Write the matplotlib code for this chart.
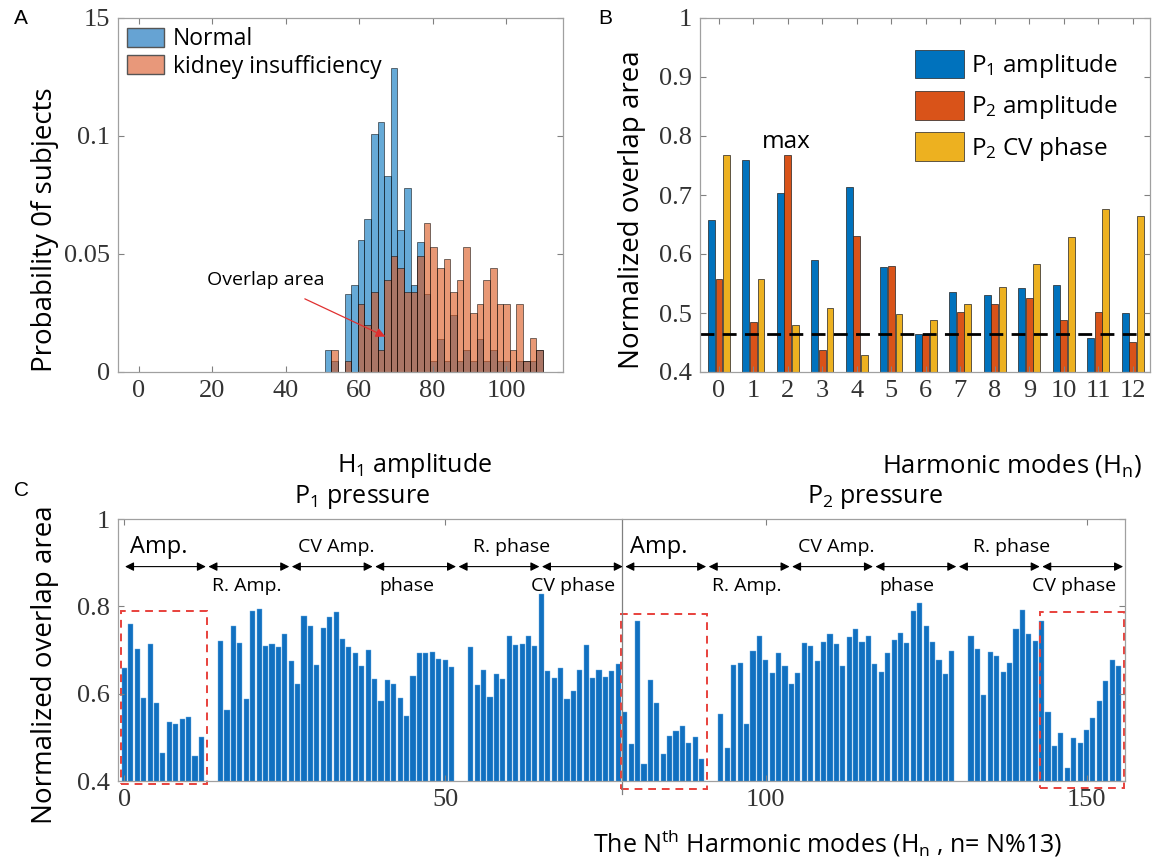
import numpy as np
import matplotlib
matplotlib.use("Agg")
import matplotlib.pyplot as plt
from matplotlib.patches import Rectangle, Patch
import matplotlib.transforms as mtransforms

plt.rcParams['font.family'] = ['Open Sans', 'DejaVu Sans']
plt.rcParams['mathtext.fontset'] = 'custom'
plt.rcParams['mathtext.rm'] = 'Open Sans'
plt.rcParams['mathtext.it'] = 'Open Sans'

# ---- panel A: histogram of H1 amplitude ----
bin_start = 50.6
bin_width = 1.8
normal_prob = [0.0095, 0.0047, 0.0, 0.0330, 0.0370, 0.0560, 0.0650, 0.1010, 0.1060,
               0.0830, 0.1290, 0.0600, 0.0780, 0.0370, 0.0550, 0.0330, 0.0047, 0.0140,
               0.0047, 0.0240, 0.0047, 0.0095, 0.0047, 0.0140, 0.0047, 0.0095, 0.0047,
               0.0047, 0.0, 0.0047, 0.0047, 0.0047, 0.0095]
kidney_prob = [0.0, 0.0095, 0.0, 0.0047, 0.0, 0.0290, 0.0200, 0.0340, 0.0095,
               0.0390, 0.0490, 0.0440, 0.0340, 0.0340, 0.0490, 0.0630, 0.0530, 0.0440,
               0.0480, 0.0340, 0.0390, 0.0530, 0.0250, 0.0290, 0.0390, 0.0440, 0.0290,
               0.0290, 0.0095, 0.0290, 0.0047, 0.0145, 0.0095]

# ---- panel B: overlap area per harmonic ----
harmonics = list(range(13))
p1_amp = [0.658, 0.759, 0.703, 0.590, 0.714, 0.578, 0.464, 0.536, 0.530, 0.543, 0.547, 0.458, 0.500]
p2_amp = [0.557, 0.484, 0.767, 0.438, 0.631, 0.579, 0.462, 0.502, 0.515, 0.525, 0.488, 0.501, 0.451]
p2_cv_phase = [0.767, 0.557, 0.480, 0.509, 0.429, 0.499, 0.488, 0.516, 0.544, 0.583, 0.629, 0.677, 0.664]
threshold = 0.464

# ---- panel C: all 156 features ----
nan = np.nan
p1_r_amp = [nan, nan, 0.720, 0.563, 0.754, 0.717, 0.587, 0.789, 0.794, 0.709, 0.713, 0.707, 0.737]
p1_cv_amp = [0.674, 0.623, 0.779, 0.756, 0.666, 0.751, 0.776, 0.788, 0.726, 0.706, 0.693, 0.664, 0.701]
p1_phase = [0.634, 0.583, 0.631, 0.623, 0.590, 0.550, 0.641, 0.694, 0.693, 0.696, 0.680, 0.676, 0.661]
p1_r_phase = [nan, nan, 0.708, 0.619, 0.655, 0.593, 0.645, 0.634, 0.731, 0.711, 0.714, 0.731, 0.710]
p1_cv_phase = [0.829, 0.652, 0.636, 0.658, 0.587, 0.607, 0.654, 0.712, 0.635, 0.655, 0.639, 0.652, 0.667]
p2_r_amp = [nan, nan, 0.554, 0.475, 0.665, 0.670, 0.531, 0.697, 0.731, 0.678, 0.648, 0.693, 0.664]
p2_cv_amp = [0.621, 0.648, 0.715, 0.710, 0.674, 0.718, 0.737, 0.714, 0.663, 0.729, 0.749, 0.718, 0.731]
p2_phase = [0.667, 0.650, 0.693, 0.722, 0.739, 0.716, 0.790, 0.808, 0.754, 0.718, 0.676, 0.645, 0.697]
p2_r_phase = [nan, nan, 0.731, 0.702, 0.597, 0.696, 0.686, 0.650, 0.670, 0.748, 0.792, 0.737, 0.720]

segment_names = ["Amp.", "R. Amp.", "CV Amp.", "phase", "R. phase", "CV phase"]
label_offsets = [5.3, 6.0, 7.0, 5.0, 8.3, 5.0]

W, H = 1156, 866
fig = plt.figure(figsize=(W / 100, H / 100), dpi=100)


def add_ax(left, top, right, bottom):
    return fig.add_axes([left / W, 1 - bottom / H, (right - left) / W, (bottom - top) / H])


def style_axes(ax):
    for s in ax.spines.values():
        s.set_color('#a0a0a0')
        s.set_linewidth(0.9)
    ax.tick_params(direction='in', top=True, right=True, length=4, width=0.8,
                   color='#808080', labelsize=19, labelcolor='#333333',
                   labelfontfamily='Liberation Serif', pad=6)


BLUE = '#0072BD'
ORANGE = '#D95319'
YELLOW = '#EDB120'

# ---------------- A ----------------
axA = add_ax(118, 18, 563, 372)
edges = bin_start + bin_width * np.arange(len(normal_prob))
axA.bar(edges, normal_prob, width=bin_width, align='edge', color=BLUE, alpha=0.6,
        edgecolor='black', linewidth=0.6)
axA.bar(edges, kidney_prob, width=bin_width, align='edge', color=ORANGE, alpha=0.6,
        edgecolor='black', linewidth=0.6)
axA.set_xlim(-5.7, 115.5)
axA.set_ylim(0, 0.15)
axA.set_xticks([0, 20, 40, 60, 80, 100])
axA.set_yticks([0, 0.05, 0.1, 0.15])
axA.set_yticklabels(['0', '0.05', '0.1', '15'])
style_axes(axA)
axA.legend(handles=[Patch(facecolor='#66a3d3', edgecolor='#555555', label='Normal'),
                    Patch(facecolor='#e8987a', edgecolor='#555555', label='kidney insufficiency')],
           loc='upper left', frameon=False, fontsize=16.5, handlelength=1.6, handleheight=0.9,
           handletextpad=0.4, labelspacing=0.15, borderaxespad=0.1, borderpad=0.3)
axA.annotate('', xy=(67.8, 0.0145), xytext=(44.5, 0.0315),
             arrowprops=dict(arrowstyle='-|>', color='#e03030', lw=0.9, mutation_scale=14))
axA.text(34.5, 0.039, 'Overlap area', ha='center', va='center', fontsize=14)
fig.text(14 / W, 1 - 18 / H, 'A', fontsize=15, family='Liberation Sans', va='center')
fig.text(45 / W, 1 - 230 / H, 'Probability 0f subjects', rotation=90, fontsize=20,
         ha='center', va='center')
fig.text(415 / W, 1 - 465 / H, 'H$_1$ amplitude', fontsize=18, ha='center', va='center')

# ---------------- B ----------------
axB = add_ax(700, 18, 1150, 372)
x = np.array(harmonics)
w = 0.2
axB.bar(x - 0.22, p1_amp, width=w, color=BLUE, edgecolor='#222222', linewidth=0.5,
        label='P$_1$ amplitude')
axB.bar(x, p2_amp, width=w, color=ORANGE, edgecolor='#222222', linewidth=0.5,
        label='P$_2$ amplitude')
axB.bar(x + 0.22, p2_cv_phase, width=w, color=YELLOW, edgecolor='#222222', linewidth=0.5,
        label='P$_2$ CV phase')
axB.axhline(threshold, color='black', linestyle=(0, (5, 3)), linewidth=2)
axB.set_xlim(-0.55, 12.5)
axB.set_ylim(0.4, 1)
axB.set_xticks(harmonics)
axB.set_yticks([0.4, 0.5, 0.6, 0.7, 0.8, 0.9, 1.0])
axB.set_yticklabels(['0.4', '0.5', '0.6', '0.7', '0.8', '0.9', '1'])
style_axes(axB)
axB.text(1.95, 0.79, 'max', ha='center', va='center', fontsize=17.5)
axB.legend(loc='upper right', frameon=False, fontsize=17.5, handlelength=2.0, handleheight=1.45,
           handletextpad=0.3, labelspacing=0.45, borderaxespad=0.9)
fig.text(598 / W, 1 - 18 / H, 'B', fontsize=15, family='Liberation Sans', va='center')
fig.text(632 / W, 1 - 210 / H, 'Normalized overlap area', rotation=90, fontsize=20,
         ha='center', va='center')
fig.text(1012 / W, 1 - 465 / H, 'Harmonic modes (H$_n$)', fontsize=18.5, ha='center', va='center')

# ---------------- C ----------------
axC = add_ax(118, 519, 1125, 781)
segments = [p1_amp, p1_r_amp, p1_cv_amp, p1_phase, p1_r_phase, p1_cv_phase,
            p2_amp, p2_r_amp, p2_cv_amp, p2_phase, p2_r_phase, p2_cv_phase]
values = np.concatenate([np.array(s, dtype=float) for s in segments])
idx = np.arange(len(values))
ok = ~np.isnan(values)
axC.bar(idx[ok], values[ok], width=0.8, color='#1170c0', edgecolor='#6fb0e6', linewidth=0.3)
axC.set_xlim(-1, 156)
axC.set_ylim(0.4, 1)
axC.set_xticks([0, 50, 100, 150])
axC.set_yticks([0.4, 0.6, 0.8, 1.0])
axC.set_yticklabels(['0.4', '0.6', '0.8', '1'])
style_axes(axC)

nseg = len(segments) // 2
split = nseg * len(p1_amp) - 0.5
axC.plot([split, split], [0.37, 1.0], color='#808080', lw=0.9, clip_on=False)

for g in range(len(segments)):
    x0 = g * 13
    axC.annotate('', xy=(x0 + 0.1, 0.891), xytext=(x0 + 12.7, 0.891),
                 arrowprops=dict(arrowstyle='<|-|>', color='black', lw=0.8,
                                 shrinkA=0, shrinkB=0, mutation_scale=13))
    k = g % nseg
    name = segment_names[k]
    if k % 2 == 0:
        axC.text(x0 + label_offsets[k], 0.937, name, ha='center', va='center',
                 fontsize=17 if k == 0 else 14)
    else:
        axC.text(x0 + label_offsets[k], 0.846, name, ha='center', va='center', fontsize=14)

for (x0, x1, y0, y1) in [(-0.5, 12.8, 0.392, 0.79), (77.4, 90.9, 0.382, 0.783),
                         (142.8, 155.9, 0.385, 0.786)]:
    axC.add_patch(Rectangle((x0, y0), x1 - x0, y1 - y0, fill=False, edgecolor='#e8413c',
                            linestyle=(0, (4, 3)), linewidth=1.4, clip_on=False))

trans = mtransforms.blended_transform_factory(axC.transData, axC.transAxes)
axC.text(37, 1.085, 'P$_1$ pressure', transform=trans, ha='center', va='center', fontsize=18)
axC.text(117, 1.085, 'P$_2$ pressure', transform=trans, ha='center', va='center', fontsize=18)
fig.text(14 / W, 1 - 490 / H, 'C', fontsize=15, family='Liberation Sans', va='center')
fig.text(45 / W, 1 - 665 / H, 'Normalized overlap area', rotation=90, fontsize=20,
         ha='center', va='center')
fig.text(828 / W, 1 - 843 / H, 'The N$^{th}$ Harmonic modes (H$_n$ , n= N%13)', fontsize=18,
         ha='center', va='center')

fig.savefig('out.png', dpi=100)
